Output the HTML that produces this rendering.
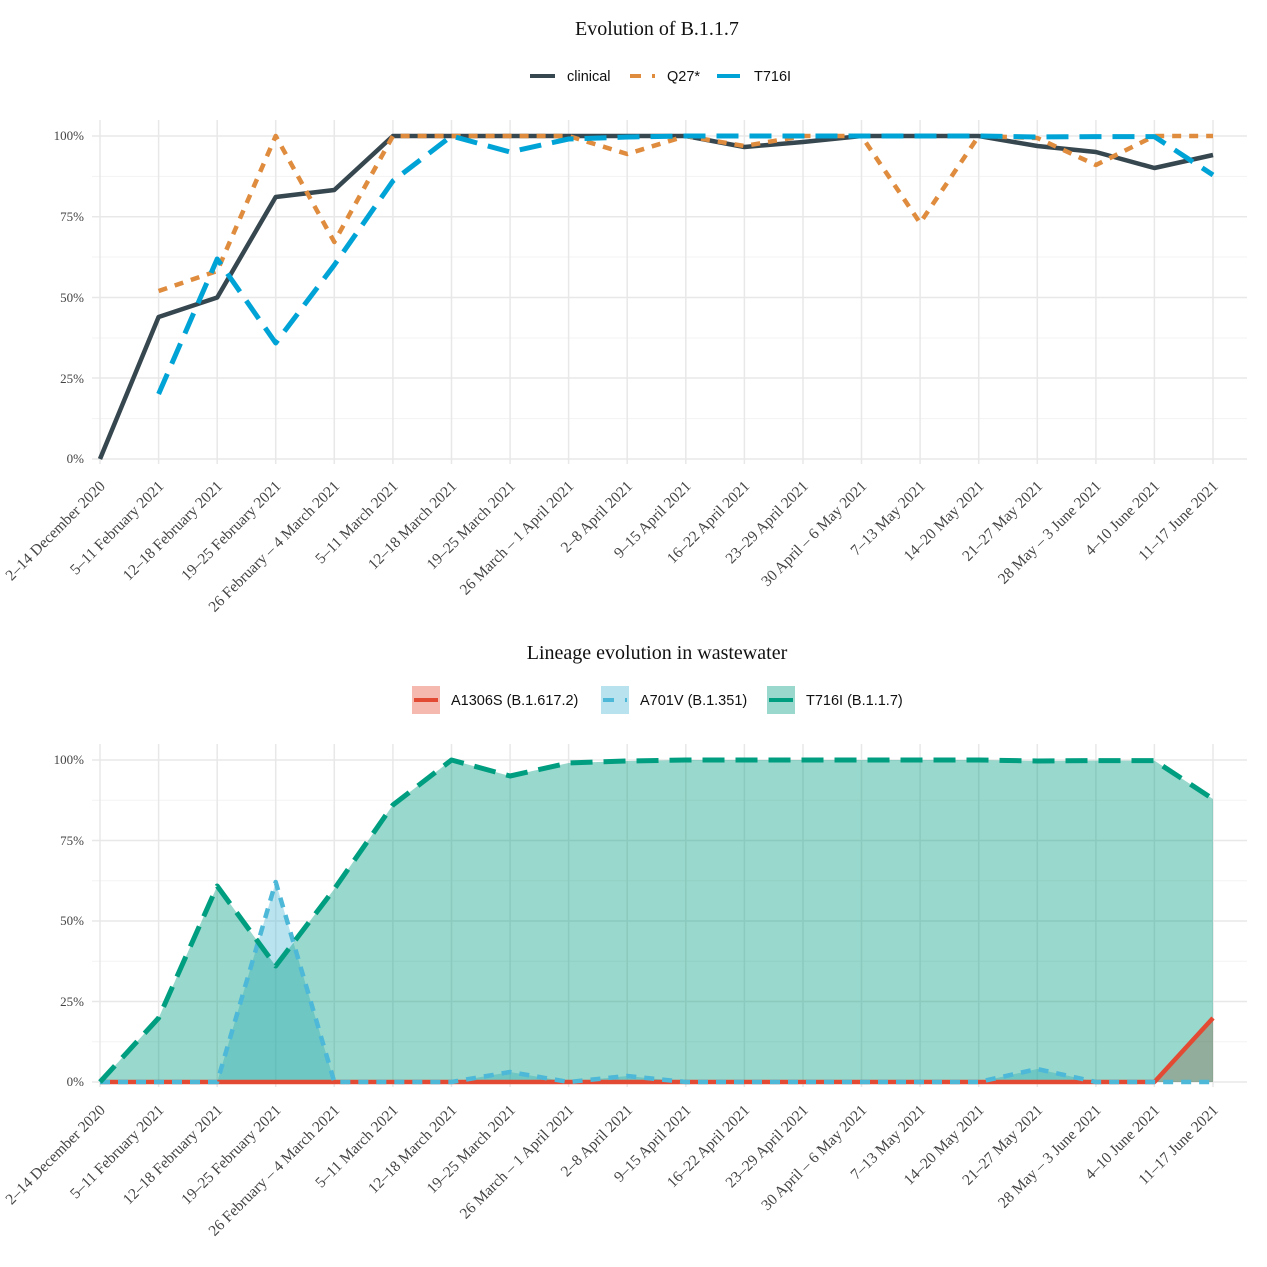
<!DOCTYPE html>
<html><head><meta charset="utf-8"><style>body{margin:0;background:#fff}svg{display:block}</style></head>
<body>
<svg width="1267" height="1267" viewBox="0 0 1267 1267" xmlns="http://www.w3.org/2000/svg">
<rect width="1267" height="1267" fill="#fff"/>
<g font-family="Liberation Serif, serif">
<text x="657" y="35" font-size="20" text-anchor="middle" fill="#111">Evolution of B.1.1.7</text>
<text x="657" y="659" font-size="20" text-anchor="middle" fill="#111">Lineage evolution in wastewater</text>
</g>
<g font-family="Liberation Sans, sans-serif" font-size="14.5" fill="#111">
<line x1="530" y1="76" x2="555" y2="76" stroke="#37474f" stroke-width="4"/>
<text x="567" y="81">clinical</text>
<line x1="630" y1="76" x2="655" y2="76" stroke="#df8c3e" stroke-width="4" stroke-dasharray="11 11"/>
<text x="667" y="81">Q27*</text>
<line x1="717" y1="76" x2="740" y2="76" stroke="#00a3d6" stroke-width="4"/>
<text x="754" y="81">T716I</text>
<rect x="412" y="686" width="28" height="28" fill="#f6b9b0"/>
<line x1="414" y1="700" x2="438" y2="700" stroke="#e34a33" stroke-width="4"/>
<text x="451" y="705">A1306S (B.1.617.2)</text>
<rect x="601" y="686" width="28" height="28" fill="#b8e2ee"/>
<line x1="603" y1="700" x2="627" y2="700" stroke="#4db8d8" stroke-width="4" stroke-dasharray="11 11"/>
<text x="640" y="705">A701V (B.1.351)</text>
<rect x="767" y="686" width="28" height="28" fill="#9ad8ce"/>
<line x1="769" y1="700" x2="793" y2="700" stroke="#009e80" stroke-width="4"/>
<text x="806" y="705">T716I (B.1.1.7)</text>
</g>
<g stroke="#f3f3f3" stroke-width="1">
<line x1="92" x2="1247" y1="418.6" y2="418.6"/><line x1="92" x2="1247" y1="338" y2="338"/><line x1="92" x2="1247" y1="257" y2="257"/><line x1="92" x2="1247" y1="176.4" y2="176.4"/>
<line x1="92" x2="1247" y1="1041.8" y2="1041.8"/><line x1="92" x2="1247" y1="961.3" y2="961.3"/><line x1="92" x2="1247" y1="880.8" y2="880.8"/><line x1="92" x2="1247" y1="800.3" y2="800.3"/>
</g>
<g stroke="#e8e8e8" stroke-width="1.5">
<line x1="92" x2="1247" y1="459" y2="459"/><line x1="92" x2="1247" y1="378" y2="378"/><line x1="92" x2="1247" y1="297.5" y2="297.5"/><line x1="92" x2="1247" y1="216.8" y2="216.8"/><line x1="92" x2="1247" y1="136" y2="136"/>
<line x1="92" x2="1247" y1="1082" y2="1082"/><line x1="92" x2="1247" y1="1001.5" y2="1001.5"/><line x1="92" x2="1247" y1="921" y2="921"/><line x1="92" x2="1247" y1="840.5" y2="840.5"/><line x1="92" x2="1247" y1="760" y2="760"/>
</g>
<g stroke="#e8e8e8" stroke-width="1.5">
<path d="M100 120V464M158.6 120V464M217.2 120V464M275.7 120V464M334.3 120V464M392.9 120V464M451.5 120V464M510.1 120V464M568.6 120V464M627.2 120V464M685.8 120V464M744.4 120V464M803 120V464M861.5 120V464M920.1 120V464M978.7 120V464M1037.3 120V464M1095.9 120V464M1154.4 120V464M1213 120V464"/>
<path d="M100 744V1087M158.6 744V1087M217.2 744V1087M275.7 744V1087M334.3 744V1087M392.9 744V1087M451.5 744V1087M510.1 744V1087M568.6 744V1087M627.2 744V1087M685.8 744V1087M744.4 744V1087M803 744V1087M861.5 744V1087M920.1 744V1087M978.7 744V1087M1037.3 744V1087M1095.9 744V1087M1154.4 744V1087M1213 744V1087"/>
</g>
<g font-family="Liberation Serif, serif" font-size="13" fill="#444" text-anchor="end">
<text x="84" y="463">0%</text><text x="84" y="383">25%</text><text x="84" y="302">50%</text><text x="84" y="221">75%</text><text x="84" y="140">100%</text>
<text x="84" y="1086">0%</text><text x="84" y="1006">25%</text><text x="84" y="925">50%</text><text x="84" y="845">75%</text><text x="84" y="764">100%</text>
</g>
<g fill="none" stroke-linejoin="round">
<polyline stroke="#37474f" stroke-width="4.5" points="100,459 158.6,317 217.2,297.5 275.7,197 334.3,190 392.9,136 451.5,136 510.1,136 568.6,136 627.2,136 685.8,136 744.4,147 803,142 861.5,136 920.1,136 978.7,136 1037.3,146 1095.9,152 1154.4,168 1213,155"/>
<polyline stroke="#df8c3e" stroke-width="4.5" stroke-dasharray="9 8" points="158.6,291 217.2,271 275.7,136 334.3,242 392.9,136 451.5,136 510.1,136 568.6,136 627.2,154 685.8,136 744.4,146 803,136 861.5,136 920.1,223 978.7,136 1037.3,138 1095.9,165 1154.4,136 1213,136"/>
<polyline stroke="#00a3d6" stroke-width="5" stroke-dasharray="22 11" points="158.6,394 217.2,259 275.7,343 334.3,265 392.9,181 451.5,136 510.1,152 568.6,139 627.2,137 685.8,136 744.4,136 803,136 861.5,136 920.1,136 978.7,136 1037.3,137 1095.9,136.6 1154.4,136.6 1213,175"/>
</g>
<polygon fill="#e34a33" fill-opacity="0.4" points="1154.4,1082 1213,1018 1213,1082"/>
<polygon fill="#4db8d8" fill-opacity="0.4" points="100,1082 217.2,1082 275.7,882 334.3,1082 451.5,1082 510.1,1072 568.6,1082 627.2,1076 685.8,1082 978.7,1082 1037.3,1069 1095.9,1082 1213,1082"/>
<polygon fill="#009e80" fill-opacity="0.4" points="100,1082 158.6,1018 217.2,886 275.7,966 334.3,889 392.9,805 451.5,760 510.1,776 568.6,763 627.2,761 685.8,760 744.4,760 803,760 861.5,760 920.1,760 978.7,760 1037.3,761 1095.9,760.6 1154.4,760.6 1213,799 1213,1082"/>
<g fill="none" stroke-linejoin="round">
<polyline stroke="#e34a33" stroke-width="4.5" points="100,1082 1154.4,1082 1213,1018"/>
<polyline stroke="#4db8d8" stroke-width="4.5" stroke-dasharray="10 8" points="100,1082 217.2,1082 275.7,882 334.3,1082 451.5,1082 510.1,1072 568.6,1082 627.2,1076 685.8,1082 978.7,1082 1037.3,1069 1095.9,1082 1213,1082"/>
<polyline stroke="#009e80" stroke-width="5" stroke-dasharray="22 11" points="100,1082 158.6,1018 217.2,886 275.7,966 334.3,889 392.9,805 451.5,760 510.1,776 568.6,763 627.2,761 685.8,760 744.4,760 803,760 861.5,760 920.1,760 978.7,760 1037.3,761 1095.9,760.6 1154.4,760.6 1213,799"/>
</g>
<g font-family="Liberation Serif, serif" font-size="15.5" fill="#444" text-anchor="end">
<text transform="translate(106,487) rotate(-45)">2–14 December 2020</text>
<text transform="translate(164.6,487) rotate(-45)">5–11 February 2021</text>
<text transform="translate(223.2,487) rotate(-45)">12–18 February 2021</text>
<text transform="translate(281.7,487) rotate(-45)">19–25 February 2021</text>
<text transform="translate(340.3,487) rotate(-45)">26 February – 4 March 2021</text>
<text transform="translate(398.9,487) rotate(-45)">5–11 March 2021</text>
<text transform="translate(457.5,487) rotate(-45)">12–18 March 2021</text>
<text transform="translate(516.1,487) rotate(-45)">19–25 March 2021</text>
<text transform="translate(574.6,487) rotate(-45)">26 March – 1 April 2021</text>
<text transform="translate(633.2,487) rotate(-45)">2–8 April 2021</text>
<text transform="translate(691.8,487) rotate(-45)">9–15 April 2021</text>
<text transform="translate(750.4,487) rotate(-45)">16–22 April 2021</text>
<text transform="translate(809,487) rotate(-45)">23–29 April 2021</text>
<text transform="translate(867.5,487) rotate(-45)">30 April – 6 May 2021</text>
<text transform="translate(926.1,487) rotate(-45)">7–13 May 2021</text>
<text transform="translate(984.7,487) rotate(-45)">14–20 May 2021</text>
<text transform="translate(1043.3,487) rotate(-45)">21–27 May 2021</text>
<text transform="translate(1101.9,487) rotate(-45)">28 May – 3 June 2021</text>
<text transform="translate(1160.4,487) rotate(-45)">4–10 June 2021</text>
<text transform="translate(1219,487) rotate(-45)">11–17 June 2021</text>
</g>
<g font-family="Liberation Serif, serif" font-size="15.5" fill="#444" text-anchor="end">
<text transform="translate(106,1111) rotate(-45)">2–14 December 2020</text>
<text transform="translate(164.6,1111) rotate(-45)">5–11 February 2021</text>
<text transform="translate(223.2,1111) rotate(-45)">12–18 February 2021</text>
<text transform="translate(281.7,1111) rotate(-45)">19–25 February 2021</text>
<text transform="translate(340.3,1111) rotate(-45)">26 February – 4 March 2021</text>
<text transform="translate(398.9,1111) rotate(-45)">5–11 March 2021</text>
<text transform="translate(457.5,1111) rotate(-45)">12–18 March 2021</text>
<text transform="translate(516.1,1111) rotate(-45)">19–25 March 2021</text>
<text transform="translate(574.6,1111) rotate(-45)">26 March – 1 April 2021</text>
<text transform="translate(633.2,1111) rotate(-45)">2–8 April 2021</text>
<text transform="translate(691.8,1111) rotate(-45)">9–15 April 2021</text>
<text transform="translate(750.4,1111) rotate(-45)">16–22 April 2021</text>
<text transform="translate(809,1111) rotate(-45)">23–29 April 2021</text>
<text transform="translate(867.5,1111) rotate(-45)">30 April – 6 May 2021</text>
<text transform="translate(926.1,1111) rotate(-45)">7–13 May 2021</text>
<text transform="translate(984.7,1111) rotate(-45)">14–20 May 2021</text>
<text transform="translate(1043.3,1111) rotate(-45)">21–27 May 2021</text>
<text transform="translate(1101.9,1111) rotate(-45)">28 May – 3 June 2021</text>
<text transform="translate(1160.4,1111) rotate(-45)">4–10 June 2021</text>
<text transform="translate(1219,1111) rotate(-45)">11–17 June 2021</text>
</g>
</svg>
</body></html>
